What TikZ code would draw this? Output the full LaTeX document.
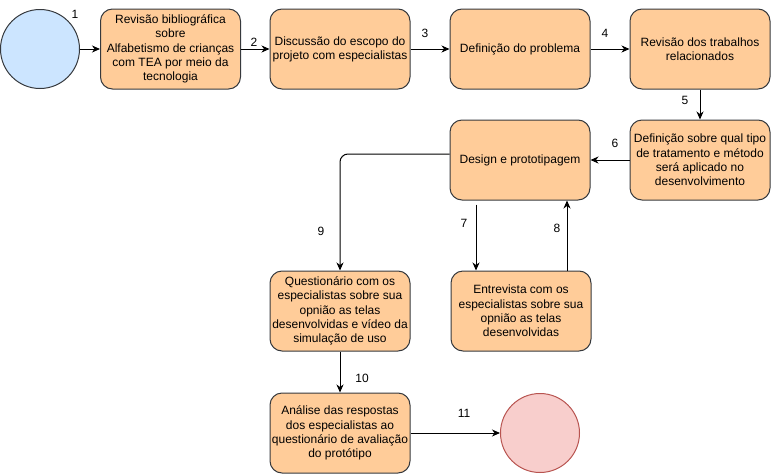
\documentclass[tikz,border=0pt]{standalone}
\usepackage{fontspec}
\setmainfont{Liberation Sans}
\usepackage{xcolor}
\usepackage{tikz}
\usetikzlibrary{arrows.meta}
\definecolor{boxfill}{HTML}{FFCC99}
\definecolor{boxline}{HTML}{36393D}
\definecolor{startfill}{HTML}{CCE5FF}
\definecolor{endfill}{HTML}{F8CECC}
\definecolor{endline}{HTML}{B85450}

\begin{document}
\begin{tikzpicture}[x=1pt, y=-1pt,
    etapa/.style={draw=boxline, fill=boxfill, line width=1pt, rounded corners=12pt,
        minimum width=140pt, minimum height=80pt, inner sep=0pt, align=center,
        font=\fontsize{12}{14.2}\selectfont},
    numero/.style={font=\fontsize{12}{14}\selectfont, inner sep=0pt},
    seta/.style={-{Stealth[length=8pt,width=7pt,inset=2.5pt]}, line width=1pt, black}]
    \useasboundingbox (0,0) rectangle (771,474);
    % basics
    \node[circle, draw=boxline, fill=startfill, line width=1pt, minimum size=79pt, inner sep=0pt] (inicio) at (40,49) {};
    \node[circle, draw=endline, fill=endfill, line width=1pt, minimum size=79pt, inner sep=0pt] (fim) at (540,433) {};

    % etapas
    \node[etapa] (revisao) at (170.5,49) {Revisão bibliográfica\\sobre\\Alfabetismo de crianças\\com TEA por meio da\\tecnologia};
    \node[etapa] (escopo) at (340,49) {Discussão do escopo do\\projeto com especialistas};
    \node[etapa] (problema) at (520,49) {Definição do problema};
    \node[etapa] (trabalhos) at (700,49) {Revisão dos trabalhos\\relacionados};
    \node[etapa] (tratamento) at (700,160) {Definição sobre qual tipo\\de tratamento e método\\será aplicado no\\desenvolvimento};
    \node[etapa] (design) at (520,160) {Design e prototipagem};
    \node[etapa] (questionario) at (340,311) {Questionário com os\\especialistas sobre sua\\opnião as telas\\desenvolvidas e vídeo da\\simulação de uso};
    \node[etapa] (entrevista) at (521,311) {Entrevista com os\\especialistas sobre sua\\opnião as telas\\desenvolvidas};
    \node[etapa] (analise) at (340,433) {Análise das respostas\\dos especialistas ao\\questionário de avaliação\\do protótipo};

    % conexoes
    \draw[seta] (inicio) -- (revisao);
    \draw[seta] (revisao) -- (escopo);
    \draw[seta] (escopo) -- (problema);
    \draw[seta] (problema) -- (trabalhos);
    \draw[seta] (trabalhos) -- (tratamento);
    \draw[seta] (tratamento) -- (design);
    \draw[seta, rounded corners=8pt] ([yshift=6pt]design.west) -| (questionario.north);
    \coordinate (sai7) at ([xshift=-44pt,yshift=-4pt]design.south);
    \draw[seta] (sai7) -- (sai7 |- entrevista.north);
    \coordinate (sai8) at ([xshift=46pt]entrevista.north);
    \draw[seta] (sai8) -- (sai8 |- design.south);
    \draw[seta] (questionario) -- (analise);
    \draw[seta] (analise) -- (fim);

    % numeros
    \node[numero] (n1) at (75,14) {1};
    \node[numero] (n2) at (254,42) {2};
    \node[numero] (n3) at (425,33) {3};
    \node[numero] (n4) at (605,33) {4};
    \node[numero] (n5) at (685,100) {5};
    \node[numero] (n6) at (615,143) {6};
    \node[numero] (n7) at (464,223) {7};
    \node[numero] (n8) at (557,228) {8};
    \node[numero] (n9) at (321,231) {9};
    \node[numero] (n10) at (362,378) {10};
    \node[numero] (n11) at (464,413) {11};
\end{tikzpicture}
\end{document}
